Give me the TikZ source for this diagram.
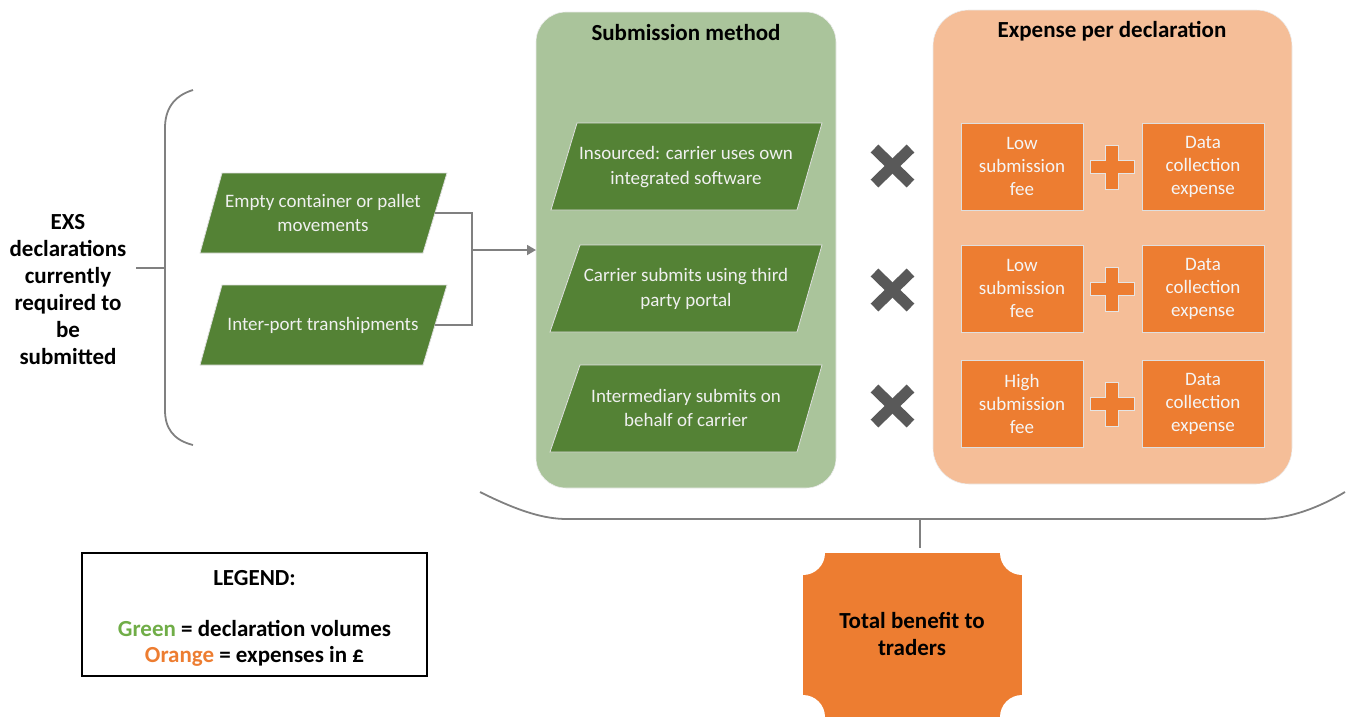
\documentclass[tikz,border=0pt]{standalone}
\usepackage{fontspec}
\setmainfont{Carlito}
\usetikzlibrary{arrows.meta}
\definecolor{gpanel}{HTML}{AAC49B}
\definecolor{gdark}{HTML}{548235}
\definecolor{opanel}{HTML}{F5BE98}
\definecolor{obox}{HTML}{ED7D31}
\definecolor{lgray}{HTML}{808080}
\definecolor{xgray}{HTML}{595959}
\definecolor{lgreen}{HTML}{70AD47}
\tikzset{
  conn/.style={draw=lgray, line width=1.8pt},
  para/.style={fill=gdark, draw=white!75!gray, line width=0.8pt},
  paratext/.style={text=white!94!black, align=center, font=\fontsize{19}{24.5}\selectfont},
  obx/.style={fill=obox, draw=white!75!gray, line width=0.8pt, minimum width=122pt, minimum height=87pt, text=white!96!black, align=center, font=\fontsize{19}{23}\selectfont, inner sep=0pt},
  hdr/.style={font=\bfseries\fontsize{23}{27}\selectfont, align=center},
  timesmark/.style={draw=xgray, line width=11pt},
  plusmark/.style={fill=obox, draw=white!80!gray, line width=0.6pt},
}
\begin{document}
\begin{tikzpicture}[x=1pt,y=-1pt]
\useasboundingbox (0,0) rectangle (1353,716);

% panels
\fill[gpanel, draw=white!85!gray, line width=0.6pt, rounded corners=30pt] (536,12) rectangle (836,488);
\fill[opanel, draw=white!85!gray, line width=0.6pt, rounded corners=36pt] (933,10) rectangle (1292,484);
\node[hdr] (ttlg) at (686,33) {Submission method};
\node[hdr] (ttlo) at (1112,31) {Expense per declaration};

% left label and brace
\node[hdr] (exs) at (68,290) {EXS\\declarations\\currently\\required to\\be\\submitted};
\coordinate (bl) at (136,268);
\coordinate (bm) at (165,268);
\draw[conn] (bl) -- (bm);
\draw[conn] (193,90) .. controls (173,96) and (165,110) .. (165,128) -- (165,410) .. controls (165,428) and (173,440) .. (193,445);

% input parallelograms
\draw[para] (200,253) -- (222,173) -- (447,173) -- (423,253) -- cycle;
\node[paratext] (in1) at (323,213) {Empty container or pallet\\movements};
\draw[para] (200,365) -- (222,285) -- (447,285) -- (423,365) -- cycle;
\node[paratext] (in2) at (323,325) {Inter-port transhipments};
\coordinate (in1r) at (435,213);
\coordinate (in2r) at (435,325);
\coordinate (jn) at (472,250);
\coordinate (arr) at (536,250);
\draw[conn] (in1r) -- (472,213) -- (472,325) -- (in2r);
\draw[conn, -{Triangle[length=9pt,width=10pt]}] (jn) -- (arr);

% submission methods
\draw[para] (551,210) -- (577,123) -- (822,123) -- (797,210) -- cycle;
\node[paratext] (m1) at (686,167) {Insourced: carrier uses own\\integrated software};
\draw[para] (550,332) -- (580,245) -- (822,245) -- (797,332) -- cycle;
\node[paratext] (m2) at (686,289) {Carrier submits using third\\party portal};
\draw[para] (550,452) -- (580,365) -- (822,365) -- (797,452) -- cycle;
\node[paratext] (m3) at (686,408) {Intermediary submits on\\behalf of carrier};

% times marks
\foreach \yy in {166,290,406}{
  \draw[timesmark] (874.5,\yy-17.5) -- (910.5,\yy+17.5);
  \draw[timesmark] (874.5,\yy+17.5) -- (910.5,\yy-17.5);
}

% expense boxes
\node[obx] (f1) at (1022,166.5) {Low\\submission\\fee};
\node[obx] (d1) at (1203,166.5) {Data\\collection\\expense};
\node[obx] (f2) at (1022,288.5) {Low\\submission\\fee};
\node[obx] (d2) at (1203,288.5) {Data\\collection\\expense};
\node[obx] (f3) at (1022,403.5) {High\\submission\\fee};
\node[obx] (d3) at (1203,403.5) {Data\\collection\\expense};
\foreach \yy in {167,289,404}{
  \draw[plusmark] (1105.5,\yy-22) -- (1118.5,\yy-22) -- (1118.5,\yy-6.5) -- (1134,\yy-6.5) -- (1134,\yy+6.5) -- (1118.5,\yy+6.5) -- (1118.5,\yy+22) -- (1105.5,\yy+22) -- (1105.5,\yy+6.5) -- (1090,\yy+6.5) -- (1090,\yy-6.5) -- (1105.5,\yy-6.5) -- cycle;
}

% bottom brace
\draw[conn] (480,492) .. controls (520,512) and (545,519) .. (567,519) -- (1260,519) .. controls (1290,519) and (1320,507) .. (1345,492);
\coordinate (tk) at (920,519);
\coordinate (tke) at (920,548);
\draw[conn] (tk) -- (tke);

% total benefit
\fill[obox] (803,553) rectangle (1022,720);
\foreach \cx/\cy in {803/553,1022/553,803/717,1022/717}{
  \fill[white] (\cx,\cy) circle (22pt);
}
\node[font=\bfseries\fontsize{23}{27}\selectfont, align=center] (tb) at (912,634) {Total benefit to\\traders};

% legend
\node[draw=black, line width=1.2pt, minimum width=345pt, minimum height=123pt] (leg) at (254.5,614.5) {};
\node[hdr] (legt) at (254.5,578) {LEGEND:};
\node[font=\bfseries\fontsize{23}{26}\selectfont, align=center] (legb) at (254.5,643) {{\color{lgreen}Green} = declaration volumes\\{\color{obox}Orange} = expenses in £};
\end{tikzpicture}
\end{document}
